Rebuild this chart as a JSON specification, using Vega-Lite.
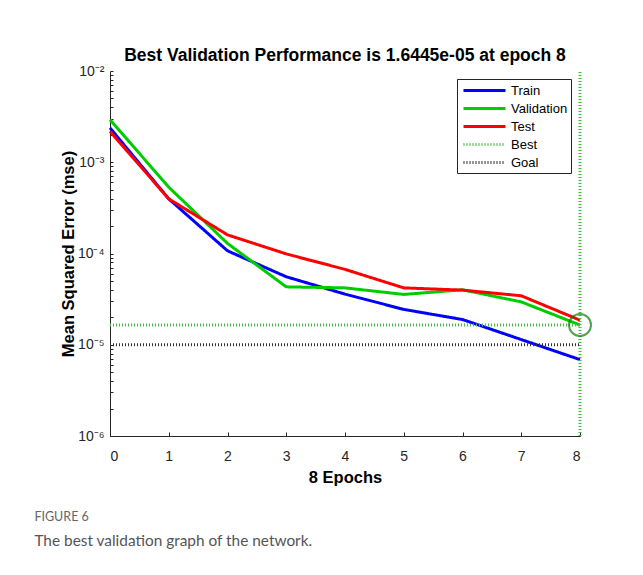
{
  "$schema": "https://vega.github.io/schema/vega-lite/v6.json",
  "background": "white",
  "padding": {"left": 34, "top": 46, "right": 20, "bottom": 20},
  "title": {
    "text": "FIGURE 6",
    "subtitle": "The best validation graph of the network.",
    "orient": "bottom",
    "anchor": "start",
    "frame": "bounds",
    "dx": -26,
    "font": "Lato",
    "fontSize": 12.5,
    "fontWeight": "normal",
    "color": "#666666",
    "subtitleFont": "Lato",
    "subtitleFontSize": 15.4,
    "subtitleColor": "#555555",
    "subtitlePadding": 11,
    "offset": 25
  },
  "config": {
    "view": {"stroke": null},
    "axis": {
      "labelFont": "Liberation Sans",
      "labelFontSize": 14,
      "labelColor": "#262626",
      "titleFont": "Liberation Sans",
      "titleFontSize": 16.5,
      "titleFontWeight": "bold",
      "titleColor": "#000000",
      "domainColor": "#262626",
      "tickColor": "#262626",
      "grid": false
    }
  },
  "vconcat": [
    {
      "width": 470,
      "height": 365,
      "title": {
        "text": "Best Validation Performance is 1.6445e-05 at epoch 8",
        "font": "Liberation Sans",
        "fontSize": 17.5,
        "fontWeight": "bold",
        "color": "#000000",
        "anchor": "middle",
        "offset": 0
      },
      "layer": [
        {
          "data": {
            "values": [
              {"series": "Train", "seg": "Train", "epoch": 0, "mse": 0.00238},
              {"series": "Train", "seg": "Train", "epoch": 1, "mse": 0.000397},
              {"series": "Train", "seg": "Train", "epoch": 2, "mse": 0.000107},
              {"series": "Train", "seg": "Train", "epoch": 3, "mse": 0.0000556},
              {"series": "Train", "seg": "Train", "epoch": 4, "mse": 0.0000359},
              {"series": "Train", "seg": "Train", "epoch": 5, "mse": 0.0000244},
              {"series": "Train", "seg": "Train", "epoch": 6, "mse": 0.0000189},
              {"series": "Train", "seg": "Train", "epoch": 7, "mse": 0.0000114},
              {"series": "Train", "seg": "Train", "epoch": 8, "mse": 0.00000687},
              {"series": "Validation", "seg": "Validation", "epoch": 0, "mse": 0.00293},
              {"series": "Validation", "seg": "Validation", "epoch": 1, "mse": 0.000533},
              {"series": "Validation", "seg": "Validation", "epoch": 2, "mse": 0.000129},
              {"series": "Validation", "seg": "Validation", "epoch": 3, "mse": 0.0000431},
              {"series": "Validation", "seg": "Validation", "epoch": 4, "mse": 0.000042},
              {"series": "Validation", "seg": "Validation", "epoch": 5, "mse": 0.0000356},
              {"series": "Validation", "seg": "Validation", "epoch": 6, "mse": 0.00004},
              {"series": "Validation", "seg": "Validation", "epoch": 7, "mse": 0.0000295},
              {"series": "Validation", "seg": "Validation", "epoch": 8, "mse": 0.000016445},
              {"series": "Test", "seg": "Test", "epoch": 0, "mse": 0.00218},
              {"series": "Test", "seg": "Test", "epoch": 1, "mse": 0.000397},
              {"series": "Test", "seg": "Test", "epoch": 2, "mse": 0.00016},
              {"series": "Test", "seg": "Test", "epoch": 3, "mse": 0.000099},
              {"series": "Test", "seg": "Test", "epoch": 4, "mse": 0.000067},
              {"series": "Test", "seg": "Test", "epoch": 5, "mse": 0.000042},
              {"series": "Test", "seg": "Test", "epoch": 6, "mse": 0.0000397},
              {"series": "Test", "seg": "Test", "epoch": 7, "mse": 0.0000344},
              {"series": "Test", "seg": "Test", "epoch": 8, "mse": 0.0000186},
              {"series": "Best", "seg": "BestH", "epoch": 0, "mse": 0.000016445},
              {"series": "Best", "seg": "BestH", "epoch": 8, "mse": 0.000016445},
              {"series": "Best", "seg": "BestV", "epoch": 8, "mse": 0.000001},
              {"series": "Best", "seg": "BestV", "epoch": 8, "mse": 0.01},
              {"series": "Goal", "seg": "Goal", "epoch": 0, "mse": 0.00001},
              {"series": "Goal", "seg": "Goal", "epoch": 8, "mse": 0.00001}
            ]
          },
          "mark": {"type": "line", "clip": false},
          "encoding": {
            "x": {
              "field": "epoch",
              "type": "quantitative",
              "scale": {"domain": [0, 8], "nice": false, "zero": false},
              "axis": {
                "title": "8 Epochs",
                "values": [0, 1, 2, 3, 4, 5, 6, 7, 8],
                "format": "d",
                "tickSize": -4,
                "labelPadding": 17,
                "titlePadding": 6
              }
            },
            "y": {
              "field": "mse",
              "type": "quantitative",
              "scale": {"type": "log", "domain": [0.000001, 0.01], "nice": false},
              "axis": {
                "title": "Mean Squared Error  (mse)",
                "values": [0.000001, 0.000002, 0.000003, 0.000004, 0.000005, 0.000006, 0.000007, 0.000008, 0.000009,
                           0.00001, 0.00002, 0.00003, 0.00004, 0.00005, 0.00006, 0.00007, 0.00008, 0.00009,
                           0.0001, 0.0002, 0.0003, 0.0004, 0.0005, 0.0006, 0.0007, 0.0008, 0.0009,
                           0.001, 0.002, 0.003, 0.004, 0.005, 0.006, 0.007, 0.008, 0.009, 0.01],
                "labelExpr": "datum.value == 0.000001 ? '10⁻⁶' : datum.value == 0.00001 ? '10⁻⁵' : datum.value == 0.0001 ? '10⁻⁴' : datum.value == 0.001 ? '10⁻³' : datum.value == 0.01 ? '10⁻²' : ''",
                "labelOverlap": false,
                "tickSize": -3,
                "labelPadding": 9,
                "titlePadding": 1
              }
            },
            "detail": {"field": "seg"},
            "color": {
              "field": "series",
              "type": "nominal",
              "scale": {
                "domain": ["Train", "Validation", "Test", "Best", "Goal"],
                "range": ["#0000ff", "#00cc00", "#ff0000", "#44bb44", "#333333"]
              },
              "legend": {
                "title": null,
                "orient": "none",
                "legendX": 347,
                "legendY": 8,
                "symbolType": "M-1,0H5",
                "symbolSize": 196,
                "symbolOffset": 2,
                "labelOffset": 32,
                "labelFont": "Liberation Sans",
                "labelFontSize": 13,
                "labelColor": "#000000",
                "strokeColor": "#262626",
                "fillColor": "#ffffff",
                "padding": 3,
                "rowPadding": 2
              }
            },
            "strokeDash": {
              "field": "series",
              "type": "nominal",
              "scale": {
                "domain": ["Train", "Validation", "Test", "Best", "Goal"],
                "range": [[1, 0], [1, 0], [1, 0], [1, 2], [1, 2]]
              },
              "legend": {"title": null}
            },
            "strokeWidth": {
              "field": "series",
              "type": "nominal",
              "scale": {
                "domain": ["Train", "Validation", "Test", "Best", "Goal"],
                "range": [3, 3, 3, 1, 1]
              },
              "legend": {"title": null}
            }
          }
        },
        {
          "data": {"values": [{"epoch": 8, "mse": 0.000016445}]},
          "mark": {"type": "point", "shape": "circle", "filled": false, "size": 484, "stroke": "#0a7a0a", "strokeWidth": 2, "clip": false},
          "encoding": {
            "x": {"field": "epoch", "type": "quantitative"},
            "y": {"field": "mse", "type": "quantitative"}
          }
        }
      ]
    }
  ]
}
